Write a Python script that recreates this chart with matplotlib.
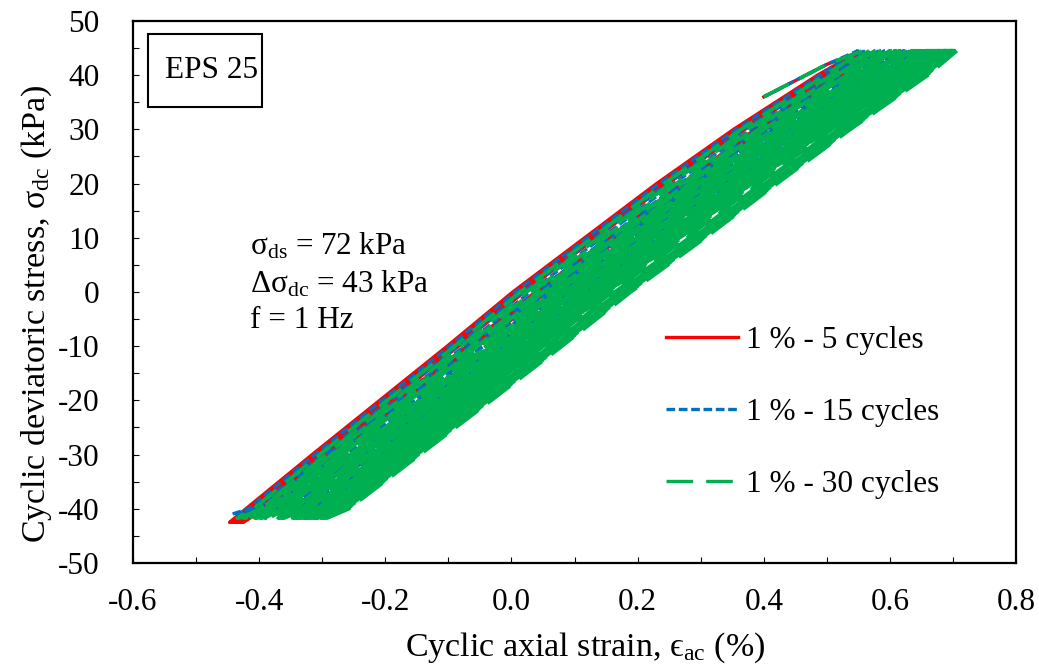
import matplotlib
matplotlib.use("Agg")
import matplotlib.pyplot as plt
from matplotlib.patches import Rectangle
from matplotlib.ticker import MultipleLocator
from matplotlib.lines import Line2D
import numpy as np

plt.rcParams['font.family'] = ['Liberation Serif', 'DejaVu Serif']
plt.rcParams['mathtext.fontset'] = 'custom'
plt.rcParams['mathtext.rm'] = 'Liberation Serif'
plt.rcParams['mathtext.it'] = 'Liberation Serif:italic'
plt.rcParams['axes.unicode_minus'] = False

# ---- data ----
# base unloading branch of the first loop (stress descending, kPa) and its strain (%)
U_STRESS = [44.0, 40.0, 30.0, 20.0, 10.0, 0.0, -10.0, -20.0, -30.0, -40.0, -42.5]
U_STRAIN = [0.545, 0.485, 0.352, 0.230, 0.116, 0.002, -0.102, -0.209, -0.316, -0.421, -0.447]
# extra strain of the loading branch over the unloading branch, same stress levels
LOAD_GAP = [0.010, 0.024, 0.034, 0.040, 0.040, 0.036, 0.031, 0.026, 0.020, 0.012, 0.004]

# starting segment of every test (strain %, stress kPa)
START_STRAIN = [0.40, 0.45, 0.50]
START_STRESS = [36.0, 39.0, 42.0]

# accumulated strain offset of each cycle (%)
RED_SHIFT = [0.0, 0.006, 0.011, 0.015, 0.018]
BLUE_SHIFT = [0.004, 0.016, 0.027, 0.037, 0.046, 0.054, 0.062, 0.069, 0.076,
              0.082, 0.088, 0.094, 0.100, 0.105, 0.110]
GREEN_SHIFT = [0.012, 0.022, 0.031, 0.040, 0.048, 0.056, 0.063, 0.070, 0.077, 0.083,
               0.089, 0.095, 0.100, 0.105, 0.110, 0.114, 0.118, 0.122, 0.126, 0.129,
               0.132, 0.135, 0.138, 0.140, 0.142, 0.144, 0.146, 0.148, 0.149, 0.151]
# stress added to the loop extremes for each series (kPa)
RED_PEAK, RED_TROUGH = 0.0, 0.0
BLUE_PEAK, BLUE_TROUGH = 0.5, 1.5
GREEN_PEAK, GREEN_TROUGH = 0.5, 0.8

LABELS = ['1 % - 5 cycles', '1 % - 15 cycles', '1 % - 30 cycles']
X_TICKS = [-0.6, -0.4, -0.2, 0.0, 0.2, 0.4, 0.6, 0.8]
Y_TICKS = [-50, -40, -30, -20, -10, 0, 10, 20, 30, 40, 50]

RED = '#FF0000'
BLUE = '#0070C0'
GREEN = '#00B050'
BLUE_DASH = (2.6, 1.1)
GREEN_DASH = (7.5, 3.2)


def build_cycles(shifts, peak, trough):
    """Return a list of (x, y) arrays, one per cycle; the first includes the start."""
    us = np.array(U_STRESS, dtype=float)
    us[0] += peak
    us[-1] += trough
    ue = np.array(U_STRAIN)
    gap = np.array(LOAD_GAP)
    out = []
    prev = (list(START_STRAIN), list(START_STRESS))
    for d in shifts:
        xs = [prev[0][-1]] + list(ue + d) + list((ue + gap + d)[::-1])
        ys = [prev[1][-1]] + list(us) + list(us[::-1])
        if len(out) == 0:
            xs = list(START_STRAIN) + xs[1:]
            ys = list(START_STRESS) + ys[1:]
        out.append((xs, ys))
        prev = (xs, ys)
    return out


fig = plt.figure(figsize=(10.39, 6.66), dpi=100)
ax = fig.add_axes([0.128, 0.1547, 0.85, 0.8138])

lw = 2.4
lw_g = 2.7
red_cycles = build_cycles(RED_SHIFT, RED_PEAK, RED_TROUGH)
blue_cycles = build_cycles(BLUE_SHIFT, BLUE_PEAK, BLUE_TROUGH)
green_cycles = build_cycles(GREEN_SHIFT, GREEN_PEAK, GREEN_TROUGH)

for xs, ys in red_cycles:
    ax.plot(xs, ys, color=RED, lw=lw, solid_joinstyle='round')
period_b = sum(BLUE_DASH) * lw
for i, (xs, ys) in enumerate(blue_cycles):
    ax.plot(xs, ys, color=BLUE, lw=lw,
            linestyle=((i * 0.37 * period_b) % period_b, BLUE_DASH))
period_g = sum(GREEN_DASH) * lw_g
for i, (xs, ys) in enumerate(green_cycles):
    ax.plot(xs, ys, color=GREEN, lw=lw_g,
            linestyle=((i * 0.41 * period_g) % period_g, GREEN_DASH))

handles = [Line2D([], [], color=RED, lw=lw),
           Line2D([], [], color=BLUE, lw=lw, dashes=BLUE_DASH),
           Line2D([], [], color=GREEN, lw=lw, dashes=(8, 3.9))]

ax.set_xlim(-0.6, 0.8)
ax.set_ylim(-50, 50)
ax.set_xticks(X_TICKS)
ax.set_xticklabels([f'{v:.1f}' for v in X_TICKS])
ax.set_yticks(Y_TICKS)
ax.xaxis.set_minor_locator(MultipleLocator(0.1))
ax.yaxis.set_minor_locator(MultipleLocator(5))
ax.tick_params(which='both', direction='in', length=4, width=0.8, labelsize=22.5)
ax.tick_params(axis='x', which='major', pad=18)
ax.tick_params(axis='y', which='major', pad=24)
for s in ax.spines.values():
    s.set_linewidth(1.6)

ax.set_xlabel('Cyclic axial strain, ϵ$_{\\mathrm{ac}}$ (%)', fontsize=24.5)
ax.set_ylabel('Cyclic deviatoric stress, σ$_{\\mathrm{dc}}$ (kPa)', fontsize=24.5)
ax.xaxis.set_label_coords(0.512, -0.124)
ax.yaxis.set_label_coords(-0.089, 0.46)

ax.add_patch(Rectangle((0.017, 0.841), 0.129, 0.135, transform=ax.transAxes,
                       fill=False, lw=1.5, ec='black'))
ax.text(0.089, 0.9085, 'EPS 25', transform=ax.transAxes, fontsize=22.5,
        ha='center', va='center')

ax.text(-0.415, 8.5, 'σ$_{\\mathrm{ds}}$ = 72 kPa', fontsize=22.5, va='center')
ax.text(-0.415, 1.5, 'Δσ$_{\\mathrm{dc}}$ = 43 kPa', fontsize=22.5, va='center')
ax.text(-0.415, -5.3, 'f = 1 Hz', fontsize=22.5, va='center')

leg = ax.legend(handles, LABELS, loc='upper left', bbox_to_anchor=(0.572, 0.49),
                frameon=False, fontsize=22.5, handlelength=2.3, labelspacing=1.38,
                handletextpad=0.25)

fig.savefig('out.png', dpi=100)
